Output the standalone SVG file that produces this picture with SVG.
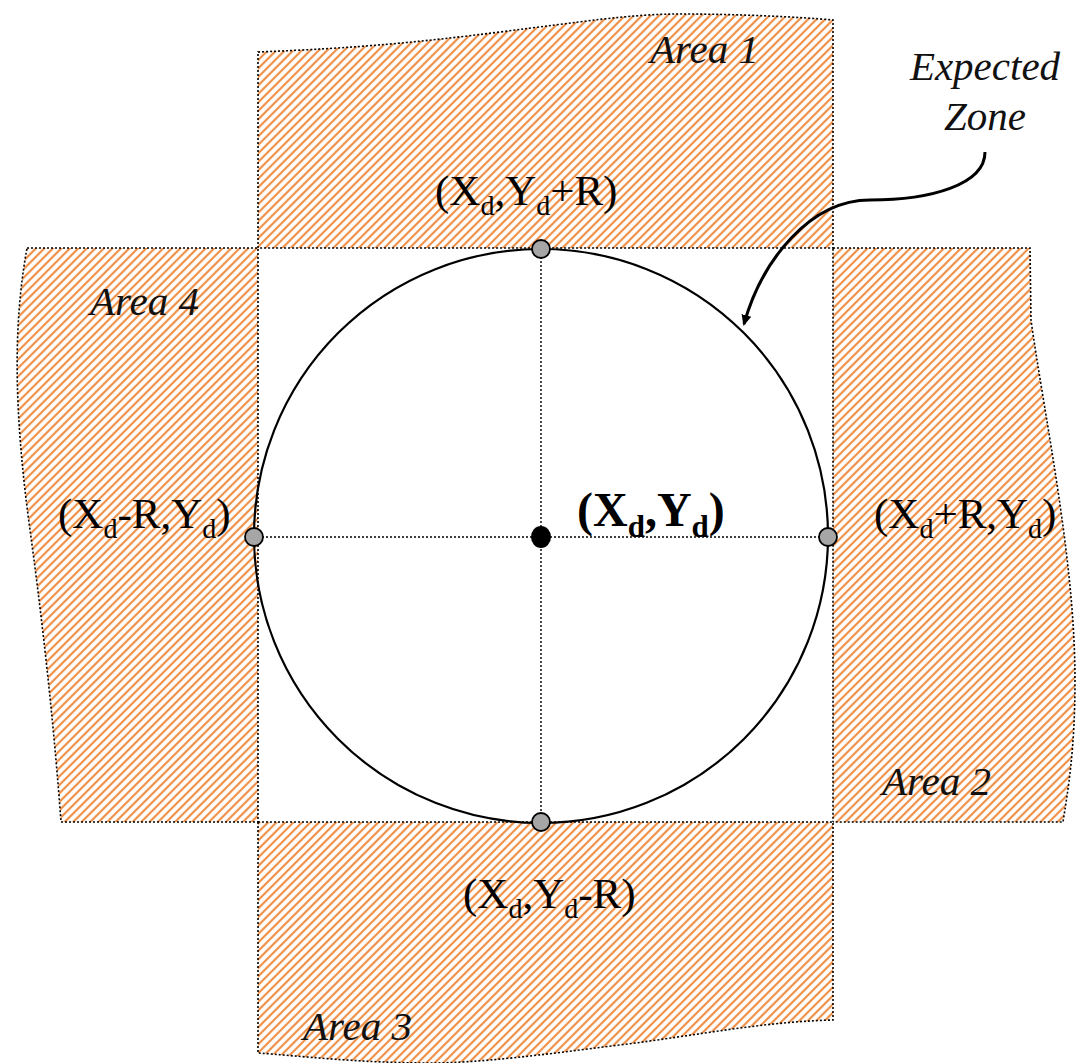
<svg xmlns="http://www.w3.org/2000/svg" width="1076" height="1063" viewBox="0 0 1076 1063">
<style>
.area{fill:url(#hatch);stroke:#000;stroke-width:1.6;stroke-dasharray:2 2}
.axis{fill:none;stroke:#000;stroke-width:1.4;stroke-dasharray:2 2}
.pt{fill:#A6A6A6;stroke:#000;stroke-width:1.8}
.lbl{font-family:"Liberation Serif","Times New Roman",serif;font-size:43px;fill:#000}
.it{font-family:"Liberation Serif","Times New Roman",serif;font-size:41px;font-style:italic;fill:#111}
.bold{font-weight:bold;font-size:48px}
</style>
<defs>
<pattern id="hatch" patternUnits="userSpaceOnUse" width="6" height="6" patternTransform="rotate(45)">
<rect width="6" height="6" fill="#fff"/>
<line x1="3" y1="0" x2="3" y2="6" stroke="#EF9048" stroke-width="2.2"/>
</pattern>
<marker id="arr" markerWidth="12" markerHeight="12" refX="9" refY="6" orient="auto" markerUnits="userSpaceOnUse">
<path d="M0,1 L11,6 L0,11 Z" fill="#000"/>
</marker>
</defs>
<rect width="1076" height="1063" fill="#fff"/>
<g id="area1">
<path class="area" d="M258,52 C360,48 420,42 500,32 C580,22 630,14 680,14 C740,14 800,17 833,20 L833,248 L258,248 Z"/>
<text class="it" x="650" y="63">Area 1</text>
</g>
<g id="area4">
<path class="area" d="M27,248 L258,248 L258,822 L61,822 C55,740 45,640 30,530 C15,420 12,330 27,248 Z"/>
<text class="it" x="90" y="315">Area 4</text>
</g>
<g id="area2">
<path class="area" d="M833,248 L1030,248 L1031,320 C1045,420 1075,560 1075,680 C1075,750 1068,790 1063,822 L833,822 Z"/>
<text class="it" x="882" y="795">Area 2</text>
</g>
<g id="area3">
<path class="area" d="M258,822 L833,822 L833,1020 C760,1022 700,1035 620,1045 C540,1055 480,1063 430,1063 C360,1063 300,1056 258,1053 Z"/>
<text class="it" x="303" y="1040">Area 3</text>
</g>
<g id="expected-zone">
<circle cx="541" cy="536" r="287" fill="none" stroke="#000" stroke-width="2.2"/>
<text class="it" x="985" y="80" text-anchor="middle">Expected</text>
<text class="it" x="985" y="130" text-anchor="middle">Zone</text>
</g>
<g id="connectors">
<line class="axis" x1="541" y1="249" x2="541" y2="822"/>
<line class="axis" x1="254" y1="537" x2="828" y2="537"/>
<path d="M985,152 C985,185 930,200 870,200 C810,200 762,260 744,324" fill="none" stroke="#000" stroke-width="3" marker-end="url(#arr)"/>
</g>
<g id="pt-top">
<circle class="pt" cx="541" cy="249" r="9"/>
<text class="lbl" x="435" y="205">(X<tspan font-size="28" dy="10">d</tspan><tspan dy="-10">,Y</tspan><tspan font-size="28" dy="10">d</tspan><tspan dy="-10">+R)</tspan></text>
</g>
<g id="pt-left">
<circle class="pt" cx="254" cy="537" r="9"/>
<text class="lbl" x="58" y="528">(X<tspan font-size="28" dy="10">d</tspan><tspan dy="-10">-R,Y</tspan><tspan font-size="28" dy="10">d</tspan><tspan dy="-10">)</tspan></text>
</g>
<g id="pt-right">
<circle class="pt" cx="828" cy="537" r="9"/>
<text class="lbl" x="874" y="528">(X<tspan font-size="28" dy="10">d</tspan><tspan dy="-10">+R,Y</tspan><tspan font-size="28" dy="10">d</tspan><tspan dy="-10">)</tspan></text>
</g>
<g id="pt-bottom">
<circle class="pt" cx="541" cy="822" r="9"/>
<text class="lbl" x="463" y="908">(X<tspan font-size="28" dy="10">d</tspan><tspan dy="-10">,Y</tspan><tspan font-size="28" dy="10">d</tspan><tspan dy="-10">-R)</tspan></text>
</g>
<g id="pt-center">
<ellipse cx="541" cy="537" rx="10" ry="11" fill="#000"/>
<text class="lbl bold" x="577" y="526">(X<tspan font-size="31" dy="11">d</tspan><tspan dy="-11">,Y</tspan><tspan font-size="31" dy="11">d</tspan><tspan dy="-11">)</tspan></text>
</g>
</svg>
